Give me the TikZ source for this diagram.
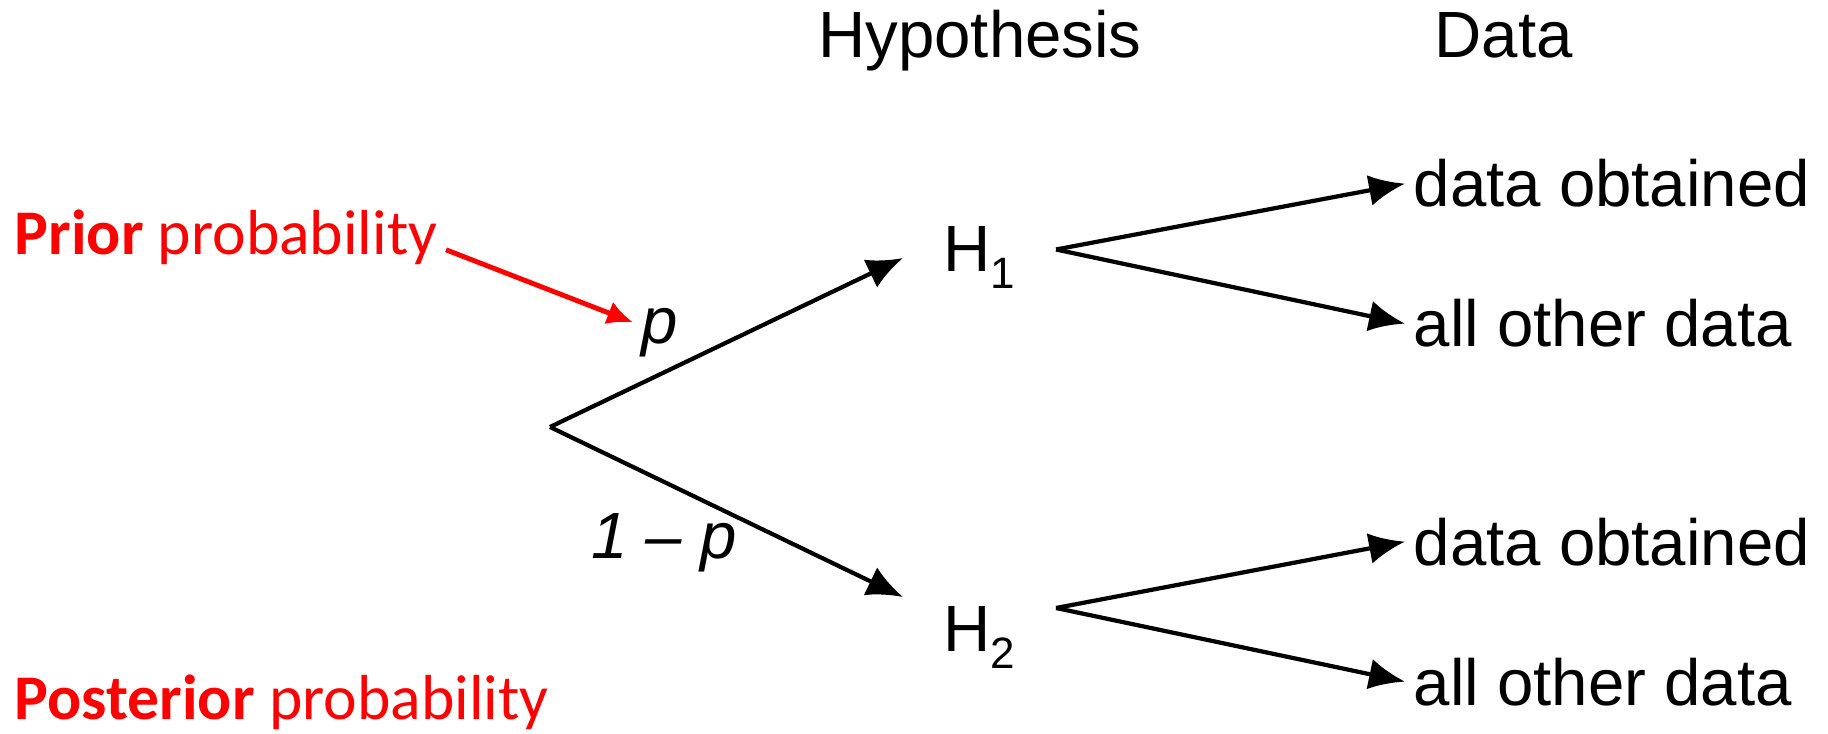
\documentclass[tikz,border=0pt]{standalone}
\usepackage{fontspec}
\setmainfont{Liberation Sans}
\newfontfamily\calib{Carlito}
\usepackage{xcolor}
\usetikzlibrary{arrows.meta,positioning}
\definecolor{priorred}{RGB}{255,0,0}

\begin{document}
\begin{tikzpicture}[
  font=\fontsize{18.6}{22}\selectfont,
  lbl/.style={inner sep=0.08cm},
  hnode/.style={inner ysep=0.08cm, inner xsep=0.4cm, anchor=west},
  redtext/.style={inner sep=0.08cm, anchor=base west, text=priorred, font=\calib\fontsize{18.1}{22}\selectfont},
  arr/.style={-{Latex[length=3.6mm,width=3.1mm]}, line width=1.2pt},
  redarr/.style={-{Latex[length=2.6mm,width=2.4mm]}, line width=1.4pt, priorred}
]
\useasboundingbox (0,0) rectangle (18.28,7.33);
\coordinate (root) at (5.50,3.06);
\node[lbl, anchor=base] (hyp) at (9.80,6.75) {Hypothesis};
\node[lbl, anchor=base west] (data) at (14.26,6.75) {Data};
\node[hnode] (h1) at (9.03,4.835) {H\raisebox{-4.8pt}[0pt][0pt]{\fontsize{12.5}{13}\selectfont 1}};
\node[hnode] (h2) at (9.03,1.035) {H\raisebox{-4.8pt}[0pt][0pt]{\fontsize{12.5}{13}\selectfont 2}};
\node[lbl, anchor=base west] (d1) at (14.05,5.26) {data obtained};
\node[lbl, anchor=base west] (o1) at (14.05,3.86) {all other data};
\node[lbl, anchor=base west] (d2) at (14.05,1.68) {data obtained};
\node[lbl, anchor=base west] (o2) at (14.05,0.28) {all other data};
\node[lbl, anchor=base] (p) at (6.60,3.90) {\itshape p};
\node[lbl, anchor=base] (q) at (6.64,1.75) {\itshape 1 \textendash\ p};
\node[redtext] (prior) at (0.06,4.78) {\textbf{Prior} probability};
\node[redtext] (post) at (0.06,0.14) {\textbf{Posterior} probability};
% prior and hypotheses
\draw[arr] (root) -- ([yshift=-0.85mm]h1.west);
\draw[arr] (root) -- ([yshift=3.25mm]h2.west);
\draw[redarr] ([yshift=-1.2mm]prior.east) -- (p.160);
% data under each hypothesis
\draw[arr] (h1.east) -- (d1.west);
\draw[arr] (h1.east) -- (o1.west);
\draw[arr] ([yshift=2.15mm]h2.east) -- (d2.west);
\draw[arr] ([yshift=2.15mm]h2.east) -- (o2.west);
\end{tikzpicture}
\end{document}
